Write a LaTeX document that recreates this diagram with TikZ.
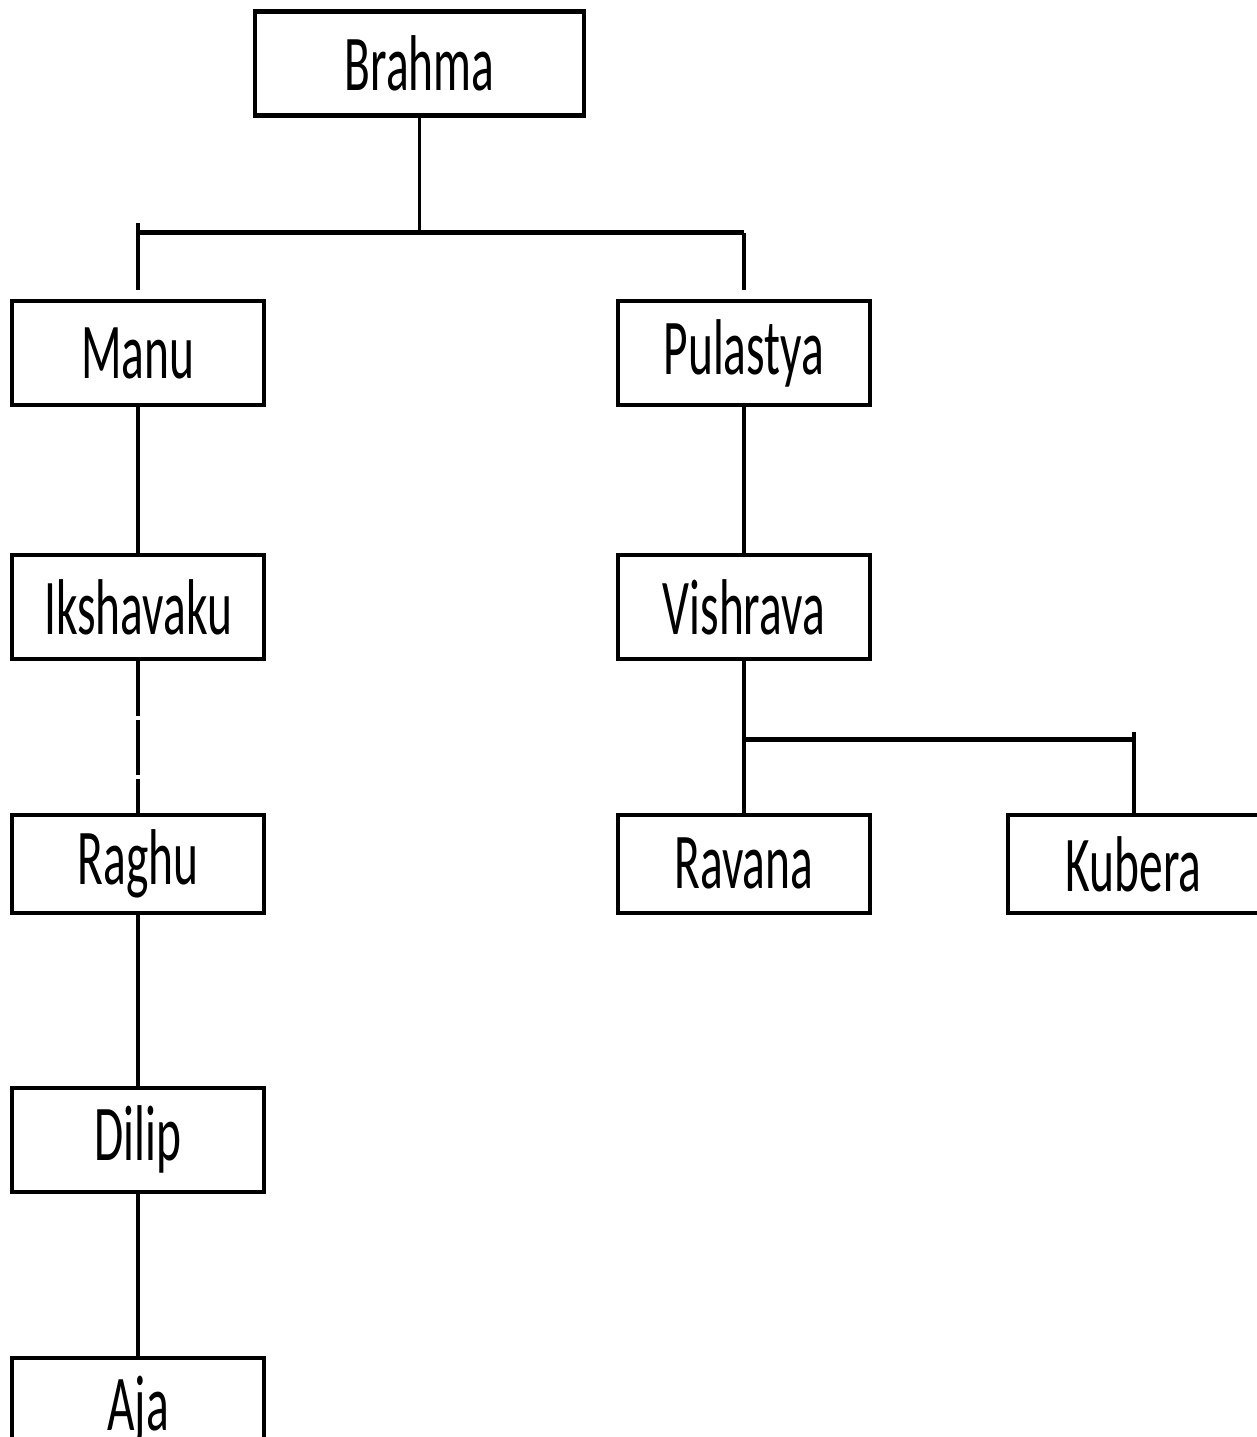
\documentclass[tikz,border=0pt]{standalone}
\usepackage{fontspec}
\newfontfamily\namefont[FakeStretch=0.6]{Carlito}
\usetikzlibrary{positioning}

\begin{document}
\begin{tikzpicture}[    font=\namefont\fontsize{45}{50}\selectfont,
    x=0.02cm, y=0.02cm,
    node distance=5.08cm and 12.12cm,
    base/.style={draw, on grid, align=center, line width=2.6pt, inner sep=0pt, minimum height=2.08cm},
    proc/.style={base, rectangle, minimum width=5.04cm},
    low/.style={minimum height=1.96cm},
    norm/.style={draw, black, line width=2pt},
    bus/.style={draw, black, line width=3pt}]

\useasboundingbox (0,0) rectangle (1257,-1437);
\clip (0,0) rectangle (1257,-1437);

\node [base, minimum width=6.58cm] (brahma) at (419.5,-63.5) {Brahma};
\node [proc] (manu) at (138,-353) {Manu};
\node [proc] (pulastya) [right=of manu] {Pulastya};
\node [proc] (ikshavaku) [below=of manu] {Ikshavaku};
\node [proc] (vishrava) [below=of pulastya] {Vishrava};
\node [proc, low] (raghu) [below=5.14cm of ikshavaku] {Raghu};
\node [proc, low] (ravana) [below=5.14cm of vishrava] {Ravana};
\node [proc, low] (kubera) [right=7.8cm of ravana] {Kubera};
\node [proc] (dilip) [below=5.52cm of raghu] {Dilip};
\node [proc] (aja) [below=5.4cm of dilip] {Aja};

\coordinate (fork1) at ([yshift=-2.3cm]brahma.south);
\coordinate (fork2) at ([yshift=-1.56cm]vishrava.south);

\draw [norm] (brahma) -- (fork1);
\draw [bus] (fork1 -| manu) -- (fork1 -| pulastya);
\draw [norm] ([yshift=0.2cm]fork1 -| manu) -- ([yshift=0.18cm]manu.north);
\draw [norm] (fork1 -| pulastya) -- ([yshift=0.18cm]pulastya.north);
\draw [norm] (manu) -- (ikshavaku);
\draw [norm, line width=2.6pt, dash pattern=on 1.1cm off 0.08cm] (ikshavaku) -- (raghu);
\draw [norm] (raghu) -- (dilip);
\draw [norm] (dilip) -- (aja);
\draw [norm] (pulastya) -- (vishrava);
\draw [norm] (vishrava) -- (ravana);
\draw [bus] (fork2) -- (fork2 -| kubera);
\draw [norm] ([yshift=0.14cm]fork2 -| kubera) -- (kubera.north);

\end{tikzpicture}
\end{document}
